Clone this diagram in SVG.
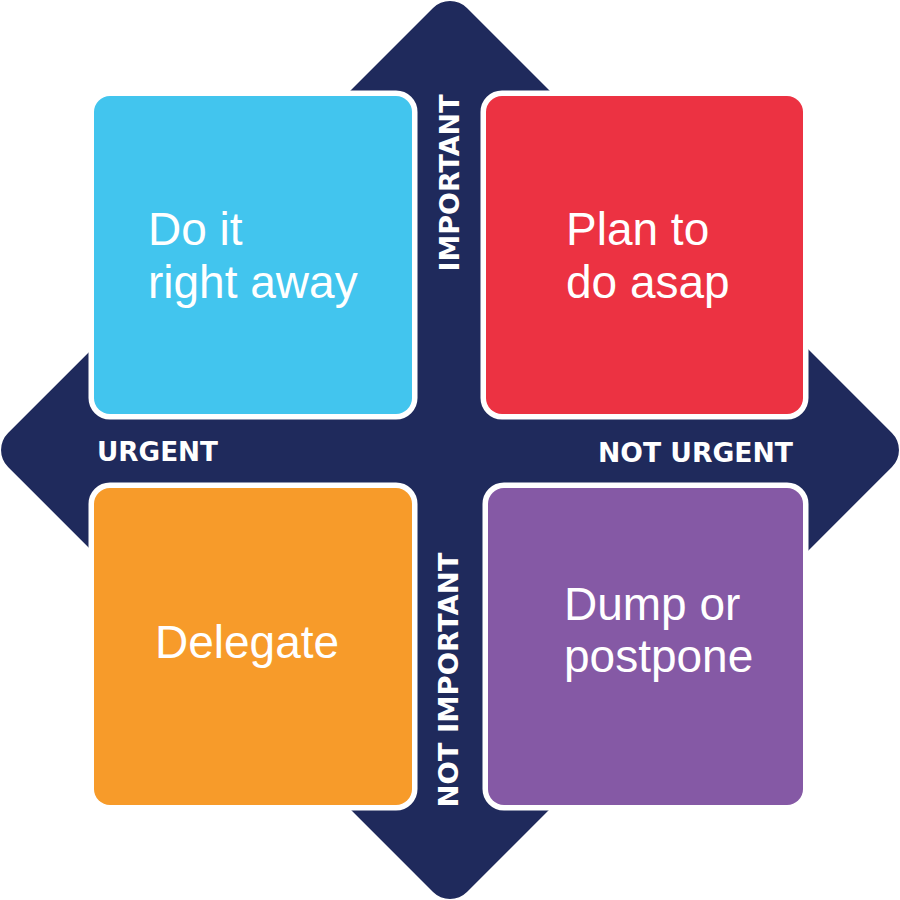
<svg xmlns="http://www.w3.org/2000/svg" width="900" height="900" viewBox="0 0 900 900">
<style>
.axis{font-family:"DejaVu Sans","Liberation Sans",Arial,sans-serif;font-weight:bold;font-size:27px;fill:#ffffff}
.box{stroke:#ffffff;stroke-width:11;paint-order:stroke}
.lbl{font-family:"Liberation Sans",Arial,sans-serif;font-size:46px;fill:#ffffff}
</style>
<rect width="900" height="900" fill="#ffffff"/>
<g id="diamond">
<rect x="125.5" y="125.5" width="649" height="649" rx="24" fill="#1f2a5c" transform="rotate(45 450 450)"/>
</g>
<g id="q-do">
<rect class="box" x="94" y="96" width="318" height="318" rx="16" fill="#42c5ee"/>
<text class="lbl" x="148" y="245">Do it</text>
<text class="lbl" x="148" y="298">right away</text>
</g>
<g id="q-plan">
<rect class="box" x="486" y="96" width="317" height="318" rx="16" fill="#ec3242"/>
<text class="lbl" x="566" y="245">Plan to</text>
<text class="lbl" x="566" y="298">do asap</text>
</g>
<g id="q-delegate">
<rect class="box" x="94" y="488" width="318" height="317" rx="16" fill="#f79b2a"/>
<text class="lbl" x="155" y="658">Delegate</text>
</g>
<g id="q-dump">
<rect class="box" x="488" y="488" width="315" height="317" rx="16" fill="#8559a5"/>
<text class="lbl" x="564" y="620">Dump or</text>
<text class="lbl" x="564" y="672">postpone</text>
</g>
<g id="axes">
<text class="axis" x="157.5" y="461" text-anchor="middle" textLength="121" lengthAdjust="spacingAndGlyphs">URGENT</text>
<text class="axis" x="695.5" y="462" text-anchor="middle" textLength="195" lengthAdjust="spacingAndGlyphs">NOT URGENT</text>
<text class="axis" transform="translate(459 183) rotate(-90)" text-anchor="middle" textLength="177" lengthAdjust="spacingAndGlyphs">IMPORTANT</text>
<text class="axis" transform="translate(458 680) rotate(-90)" text-anchor="middle" textLength="255" lengthAdjust="spacingAndGlyphs">NOT IMPORTANT</text>
</g>
</svg>
